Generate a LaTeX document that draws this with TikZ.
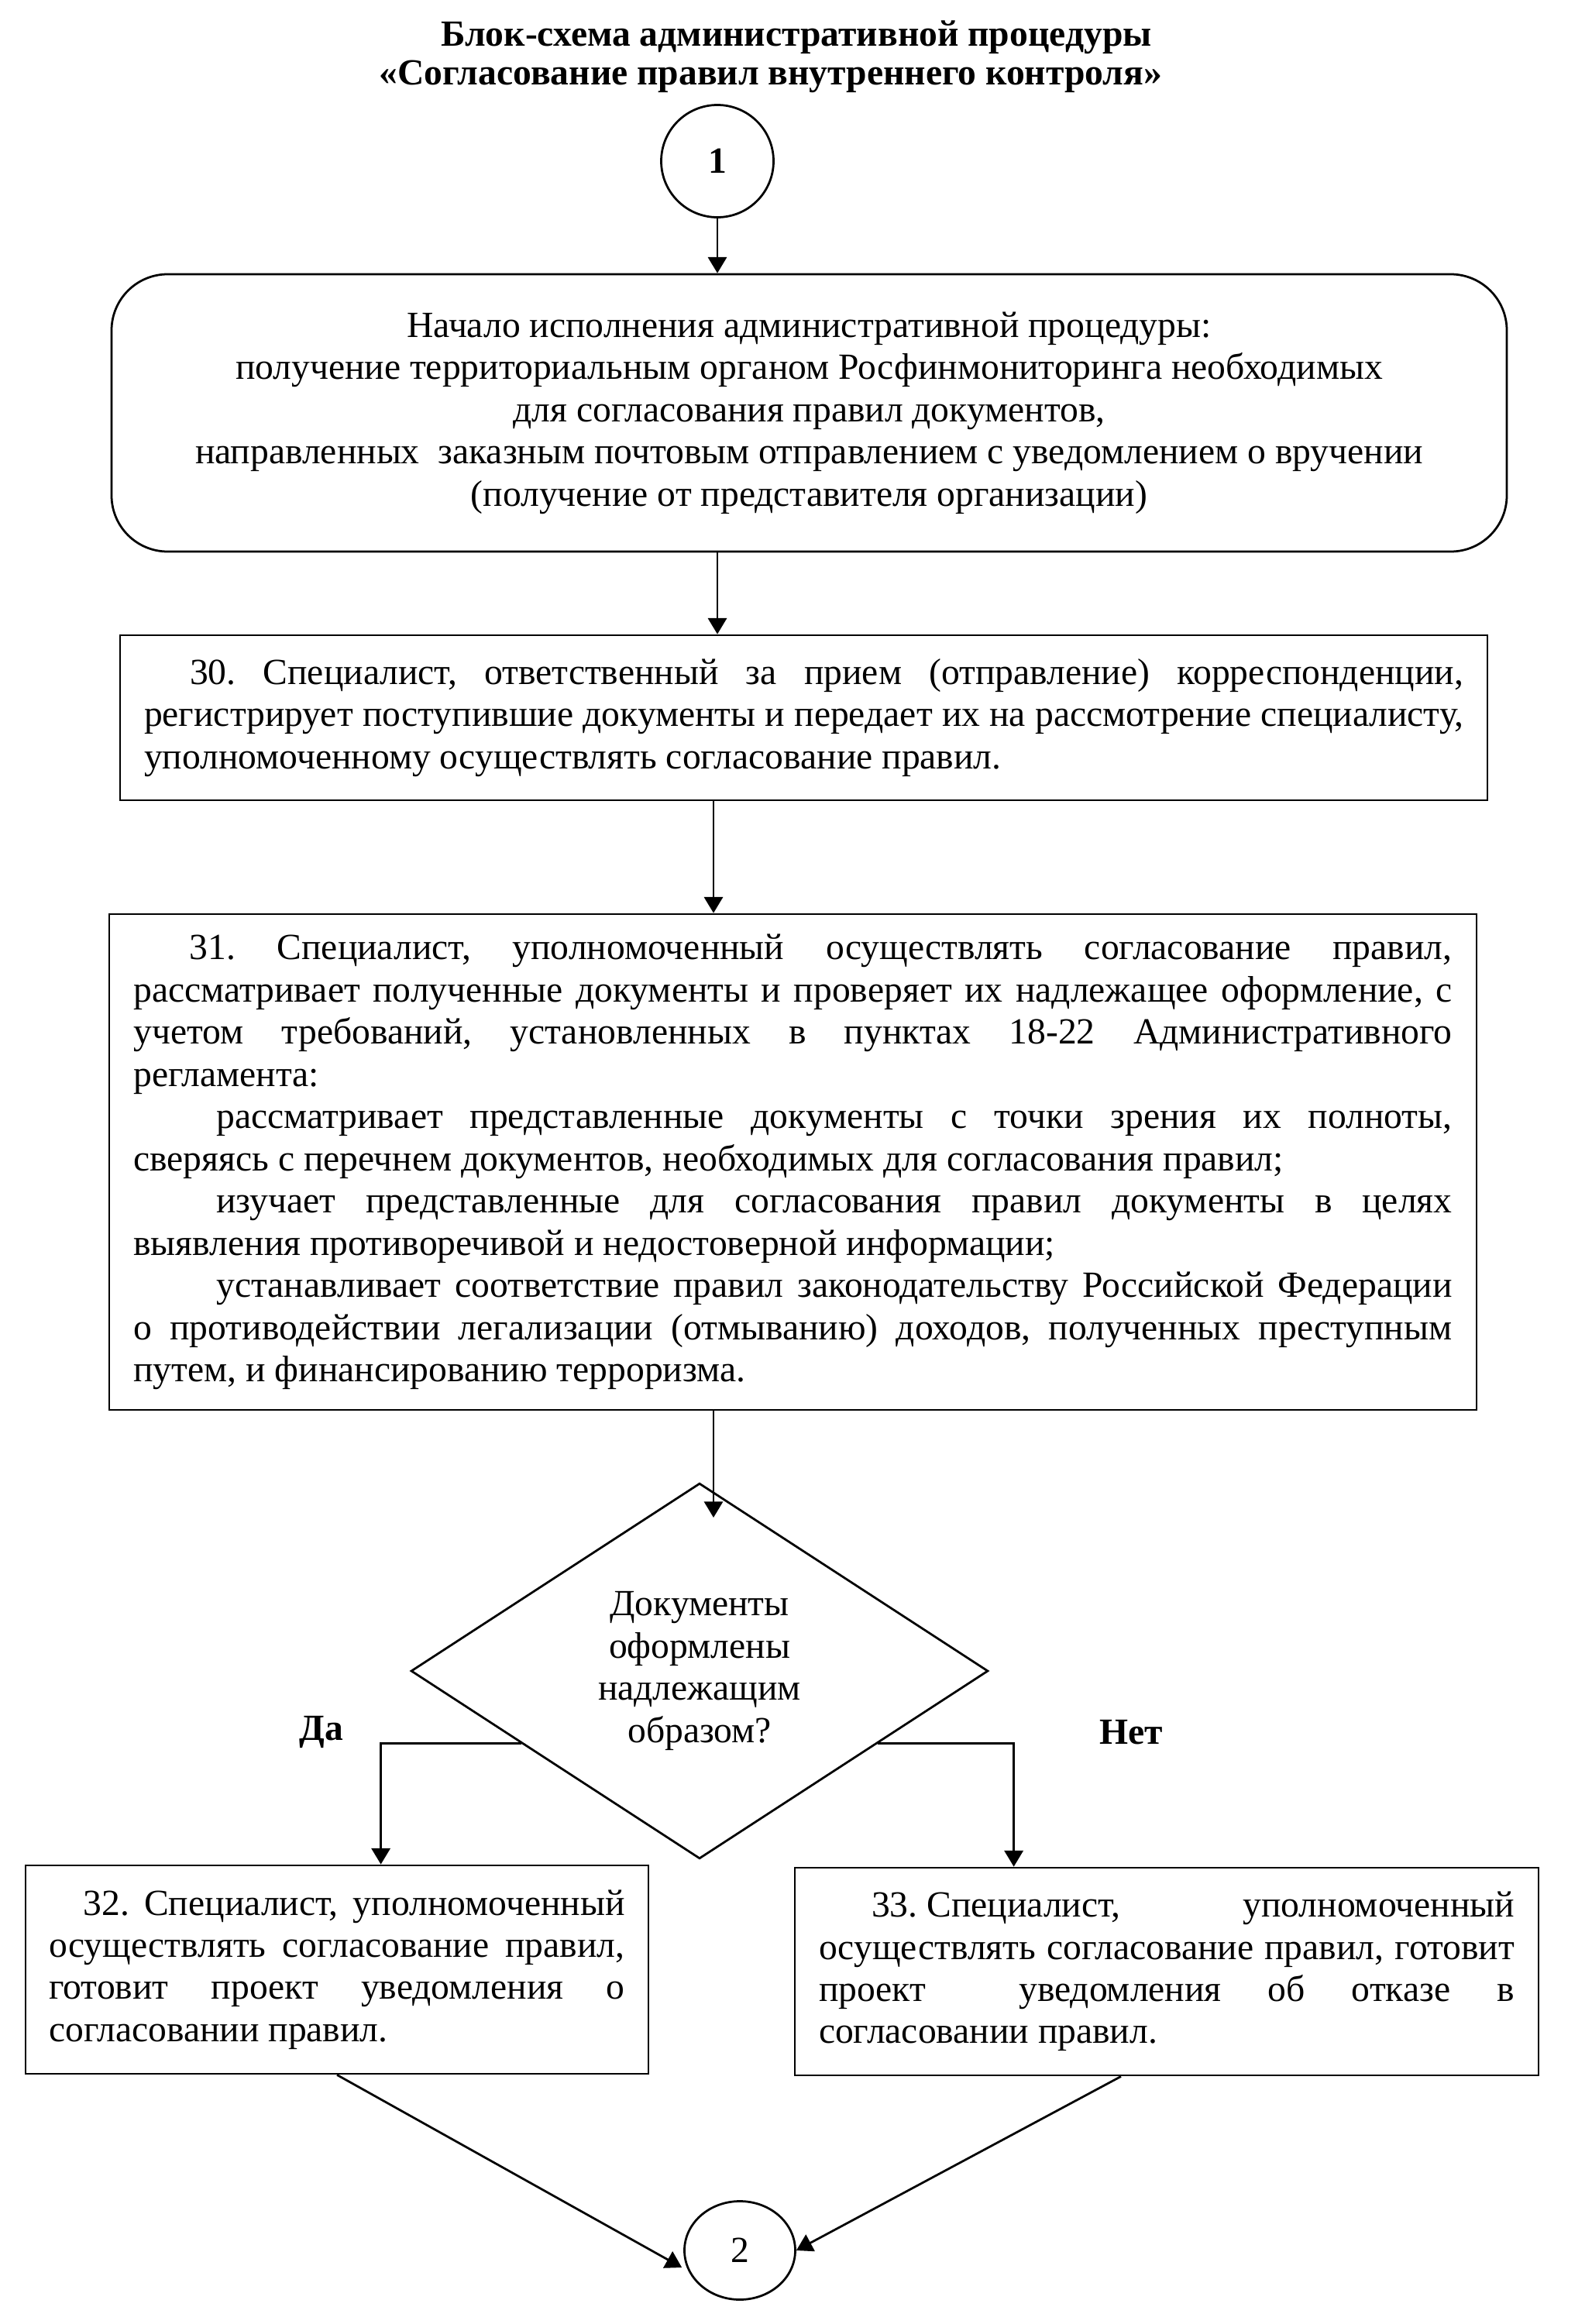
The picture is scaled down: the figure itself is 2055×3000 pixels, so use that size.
\documentclass[tikz,border=0pt]{standalone}
\usepackage{fontspec}
\setmainfont{Liberation Serif}
\usetikzlibrary{shapes.geometric,arrows.meta,calc}
\frenchspacing
\def\U{0.29pt}
\newcommand\TB[2]{\vbox{\hsize=\dimexpr\U*#1\relax\baselineskip=15.8pt\lineskiplimit=-10pt\relax #2}}
\newcommand\JL[1]{\hbox to \hsize{#1}}
\newcommand\LL[1]{\hbox{#1}}
\newcommand\CL[1]{\hbox to \hsize{\hfil #1\hfil}}
\newcommand\ind[1]{\hspace*{\dimexpr\U*#1\relax}}
\begin{document}
\begin{tikzpicture}[x=\U,y=-\U,line width=0.8pt,
  every node/.style={font=\fontsize{13.8}{15.8}\selectfont},
  arr/.style={-{Triangle[length=6pt,width=7pt]}},
  rbox/.style={draw,rectangle,inner sep=0pt},
  title/.style={font=\fontsize{13.8}{15.8}\selectfont\bfseries,inner sep=0pt},
  lab/.style={font=\fontsize{13.8}{15.8}\selectfont\bfseries,inner sep=0pt}]
\useasboundingbox (0,0) rectangle (2055,3000);
\node[title] (t1) at (1028,48) {Блок-схема административной процедуры};
\node[title] (t2) at (995,99) {«Согласование правил внутреннего контроля»};
\node[draw,circle,minimum size={145*\U},inner sep=0pt,font=\fontsize{13.8}{15.8}\selectfont\bfseries] (c1) at (926,208) {1};
\node[rbox,rounded corners=21pt,minimum width={1801*\U},minimum height={358*\U}] (r0) at (1044.5,533) {\TB{1750}{%
\CL{Начало исполнения административной процедуры:}
\CL{получение территориальным органом Росфинмониторинга необходимых}
\CL{для согласования правил документов,}
\CL{направленных\ \ заказным почтовым отправлением с уведомлением о вручении}
\CL{(получение от представителя организации)}}};
\node[rbox,minimum width={1765*\U},minimum height={213*\U}] (b30) at (1037.5,926.5) {\TB{1703}{%
\JL{\ind{59}30. Специалист, ответственный за прием (отправление) корреспонденции,}
\JL{регистрирует поступившие документы и передает их на рассмотрение специалисту,}
\LL{уполномоченному осуществлять согласование правил.}}};
\node[rbox,minimum width={1765*\U},minimum height={640*\U}] (b31) at (1023.5,1500) {\TB{1702}{%
\JL{\ind{72}31. Специалист, уполномоченный осуществлять согласование правил,}
\JL{рассматривает полученные документы и проверяет их надлежащее оформление, с}
\JL{учетом требований, установленных в пунктах 18-22 Административного}
\LL{регламента:}
\JL{\ind{107}рассматривает представленные документы с точки зрения их полноты,}
\LL{сверяясь с перечнем документов, необходимых для согласования правил;}
\JL{\ind{107}изучает представленные для согласования правил документы в целях}
\LL{выявления противоречивой и недостоверной информации;}
\JL{\ind{107}устанавливает соответствие правил законодательству Российской Федерации}
\JL{о противодействии легализации (отмыванию) доходов, полученных преступным}
\LL{путем, и финансированию терроризма.}}};
\node[draw,diamond,inner sep=0pt,minimum width={745*\U},minimum height={463*\U}] (d) at (903,2157) {\TB{280}{%
\CL{Документы}\CL{оформлены}\CL{надлежащим}\CL{образом?}}};
\node[rbox,minimum width={804*\U},minimum height={269*\U}] (b32) at (435,2542.5) {\TB{743}{%
\JL{\ind{44}32. Специалист, уполномоченный}
\JL{осуществлять согласование правил,}
\JL{готовит проект уведомления о}
\LL{согласовании правил.}}};
\node[rbox,minimum width={960*\U},minimum height={268*\U}] (b33) at (1506,2545) {\TB{898}{%
\JL{\ind{68}33. Специалист,\hfill уполномоченный}
\JL{осуществлять согласование правил, готовит}
\JL{проект\ \ уведомления об отказе в}
\LL{согласовании правил.}}};
\node[draw,ellipse,inner sep=0pt,minimum width={143*\U},minimum height={127*\U}] (c2) at (955,2905) {2};
\node[lab] (da) at (415,2236) {Да};
\node[lab] (net) at (1460,2236) {Нет};
\coordinate (din) at (921,1959);
\coordinate (dl) at ($(d.west)!0.385!(d.south)$);
\coordinate (dr) at ($(d.east)!0.385!(d.south)$);
\draw[arr] (c1.south) -- (c1.south |- r0.north);
\draw[arr] (c1.south |- r0.south) -- (c1.south |- b30.north);
\draw[arr] (din |- b30.south) -- (din |- b31.north);
\draw[arr] (din |- b31.south) -- (din);
\draw[arr] (dl) -| ($(b32.north west)+(460,0)$);
\draw[arr] (dr) -| ($(b33.north west)+(284,0)$);
\draw[arr] (b32.south) -- ($(c2.west)+(-2,22)$);
\draw[arr] ($(b33.south)+(-59,0)$) -- (c2.east);
\end{tikzpicture}
\end{document}
